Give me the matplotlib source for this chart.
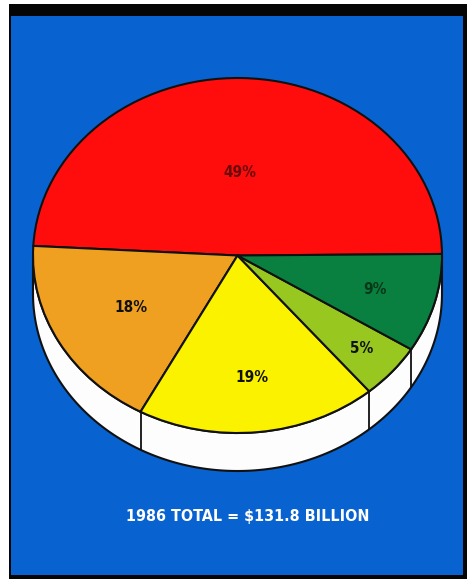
import numpy as np
import matplotlib
matplotlib.use("Agg")
import matplotlib.pyplot as plt
from matplotlib.patches import Rectangle, Polygon

# ---- data ----
categories = ["A", "B", "C", "D", "E"]
values = [49, 18, 19, 5, 9]
labels = ["49%", "18%", "19%", "5%", "9%"]
colors = ["#ff0d0d", "#f0a020", "#fbf200", "#98c820", "#0a8040"]
label_colors = ["#6a0a0a", "#111111", "#111111", "#111111", "#083818"]
label_dist = [0.47, 0.60, 0.69, 0.80, 0.70]
title_text = "1986 TOTAL = $131.8 BILLION"

W, H = 471, 580
fig = plt.figure(figsize=(W / 100, H / 100), dpi=100)
fig.patch.set_facecolor("white")

def px_rect(x0, y0, x1, y1, color):
    fig.patches.append(Rectangle((x0 / W, 1 - y1 / H), (x1 - x0) / W, (y1 - y0) / H,
                                 transform=fig.transFigure, facecolor=color,
                                 edgecolor="none", zorder=-10))

px_rect(9, 4, 467, 579, "#050505")
px_rect(11, 16, 463, 575, "#0862d0")

# pie geometry in pixels
cx, cy, rx, ry, depth = 237.5, 255.5, 204.5, 177.5, 38.0
ax = fig.add_axes([0, 0, 1, 1])
ax.set_zorder(5)
ax.patch.set_alpha(0)

start = 0.5
wedges, _ = ax.pie(values, colors=colors, startangle=start, counterclock=True,
                   radius=1.0, center=(0, 0),
                   wedgeprops=dict(edgecolor="#111111", linewidth=1.5, zorder=3))
ax.set_aspect("auto")
ax.set_xlim(-cx / rx, (W - cx) / rx)
ax.set_ylim((cy - H) / ry, cy / ry)
ax.axis("off")

d = depth / ry
t = np.linspace(np.pi, 2 * np.pi, 300)
top = np.column_stack([np.cos(t), np.sin(t)])
bot = np.column_stack([np.cos(t[::-1]), np.sin(t[::-1]) - d])
side = Polygon(np.vstack([top, bot]), closed=True, facecolor="#fdfdfd",
               edgecolor="#111111", linewidth=1.5, zorder=1)
ax.add_patch(side)

# boundary lines on side
cum = np.cumsum([0] + values)
bounds = start + 360.0 * cum / sum(values)
for b in bounds:
    a = np.deg2rad(b % 360)
    if np.sin(a) < -0.02:
        ax.plot([np.cos(a), np.cos(a)], [np.sin(a), np.sin(a) - d],
                color="#111111", lw=1.3, zorder=2)

# labels
for i, (lab, lc, r) in enumerate(zip(labels, label_colors, label_dist)):
    mid = np.deg2rad(start + 360.0 * (cum[i] + values[i] / 2) / sum(values))
    ax.text(r * np.cos(mid), r * np.sin(mid), lab, ha="center", va="center",
            fontsize=11, fontweight="bold", color=lc, fontstretch="condensed",
            family=["DejaVu Sans"], zorder=5)

fig.text(247.5 / W, 1 - 516 / H, title_text, ha="center", va="center",
         color="white", fontsize=11.5, fontweight="bold", fontstretch="condensed",
         family=["DejaVu Sans"])

fig.savefig("out.png", dpi=100, facecolor=fig.get_facecolor())
